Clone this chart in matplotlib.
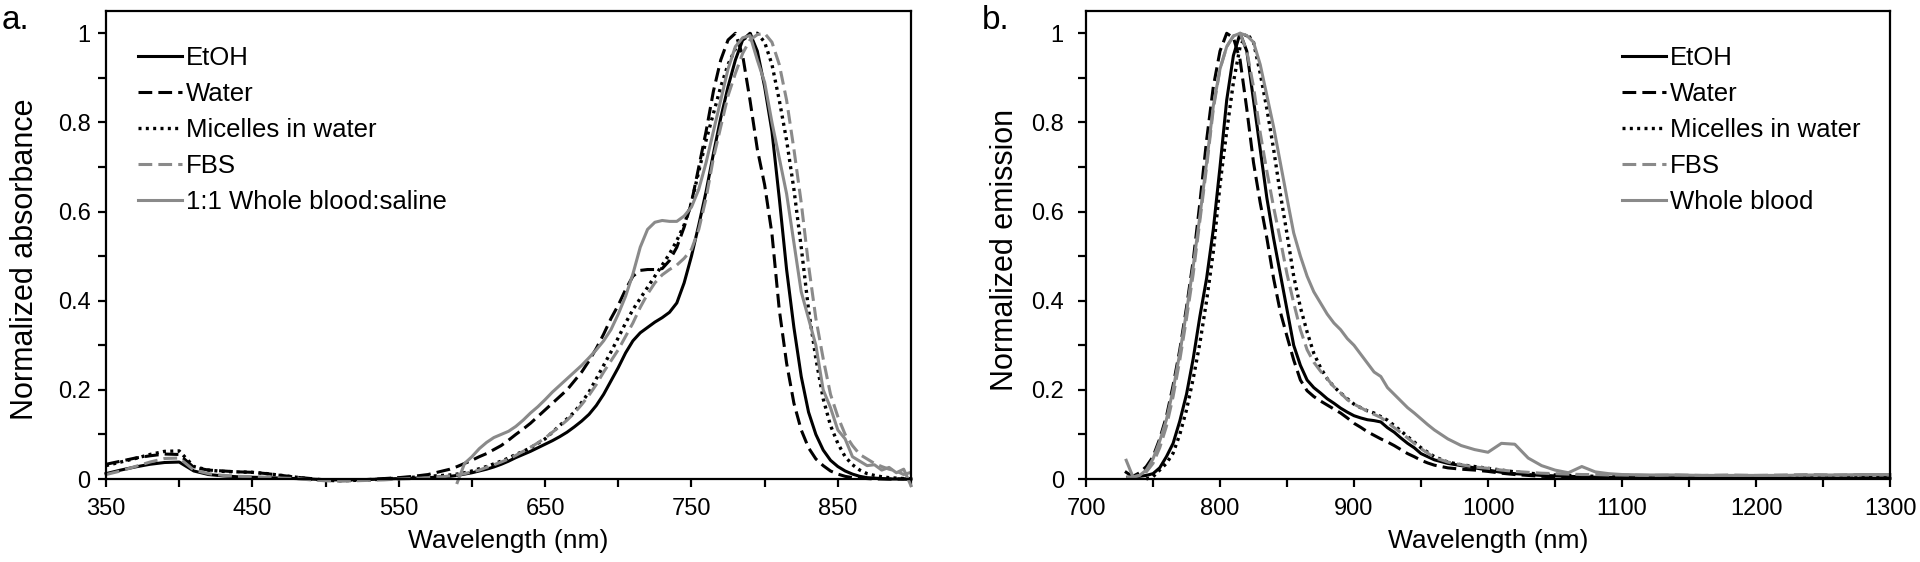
import numpy as np
import matplotlib
matplotlib.use('Agg')
import matplotlib.pyplot as plt
from matplotlib.ticker import MultipleLocator

plt.rcParams['font.family'] = ['Liberation Sans', 'DejaVu Sans']

nan = np.nan

# ---------------- Panel a: absorbance ----------------
wl_a = np.concatenate([np.arange(350, 581, 10), np.arange(585, 901, 5)])

abs_etoh = [0.012, 0.02, 0.027, 0.033, 0.037, 0.038, 0.018, 0.01, 0.007, 0.005, 0.004, 0.003,
            0.002, 0.001, 0.0, -0.002, -0.002, -0.002, -0.001, 0.0, 0.001, 0.002, 0.003, 0.005,
            0.006, 0.008, 0.011, 0.014, 0.018, 0.022, 0.027, 0.033, 0.04, 0.048, 0.055, 0.062,
            0.07, 0.078, 0.086, 0.095, 0.105, 0.117, 0.13, 0.145, 0.165, 0.19, 0.22, 0.25,
            0.283, 0.31, 0.328, 0.34, 0.352, 0.362, 0.374, 0.395, 0.44, 0.5, 0.57, 0.645,
            0.73, 0.81, 0.88, 0.94, 0.985, 1.0, 0.96, 0.88,
            0.78, 0.63, 0.47, 0.34, 0.23, 0.15, 0.10, 0.065, 0.042, 0.028, 0.018, 0.011,
            0.006, 0.003, 0.002, 0.001, 0.0, 0.0, 0.0, 0.0]

abs_water = [0.033, 0.04, 0.047, 0.052, 0.056, 0.055, 0.026, 0.02, 0.018, 0.016, 0.015, 0.012,
             0.008, 0.004, 0.001, -0.002, -0.003, -0.002, -0.001, 0.001, 0.003, 0.006, 0.01, 0.018,
             0.022, 0.028, 0.035, 0.042, 0.05, 0.057, 0.066, 0.075, 0.087, 0.1, 0.112, 0.125,
             0.14, 0.155, 0.17, 0.185, 0.2, 0.22, 0.24, 0.265, 0.293, 0.325, 0.36, 0.39,
             0.425, 0.455, 0.468, 0.47, 0.47, 0.472, 0.49, 0.52, 0.565, 0.62, 0.70, 0.78,
             0.87, 0.94, 0.985, 1.0, 0.95, 0.85, 0.74, 0.66,
             0.55, 0.38, 0.26, 0.17, 0.11, 0.07, 0.045, 0.03, 0.018, 0.011, 0.006, 0.003,
             0.002, 0.001, 0.0, 0.0, 0.0, 0.0, 0.0, 0.0]

abs_micelles = [0.03, 0.038, 0.046, 0.055, 0.062, 0.063, 0.028, 0.02, 0.017, 0.016, 0.015, 0.012,
                0.008, 0.004, 0.0, -0.003, -0.004, -0.003, -0.002, 0.0, 0.002, 0.004, 0.006, 0.008,
                0.009, 0.011, 0.014, 0.018, 0.023, 0.028, 0.034, 0.04, 0.047, 0.055, 0.062, 0.07,
                0.08, 0.09, 0.105, 0.12, 0.135, 0.15, 0.172, 0.195, 0.225, 0.255, 0.285, 0.317,
                0.35, 0.38, 0.405, 0.43, 0.455, 0.48, 0.505, 0.535, 0.57, 0.62, 0.69, 0.76,
                0.82, 0.88, 0.93, 0.965, 0.985, 0.997, 1.0, 0.98,
                0.93, 0.85, 0.76, 0.65, 0.52, 0.38, 0.27, 0.18, 0.12, 0.08, 0.05, 0.032,
                0.02, 0.012, 0.008, 0.005, 0.003, 0.002, 0.001, 0.0]

abs_fbs = [0.01, 0.018, 0.028, 0.038, 0.046, 0.047, 0.02, 0.012, 0.008, 0.006, 0.005, 0.004,
           0.002, 0.001, -0.002, -0.004, -0.005, -0.004, -0.003, -0.002, 0.0, 0.001, 0.003, 0.005,
           0.007, 0.009, 0.012, 0.016, 0.02, 0.026, 0.032, 0.038, 0.045, 0.053, 0.062, 0.071,
           0.081, 0.092, 0.105, 0.118, 0.132, 0.148, 0.167, 0.188, 0.212, 0.24, 0.265, 0.29,
           0.32, 0.35, 0.385, 0.415, 0.44, 0.458, 0.47, 0.48, 0.495, 0.515, 0.56, 0.63,
           0.72, 0.79, 0.86, 0.91, 0.955, 0.985, 0.997, 1.0,
           0.98, 0.93, 0.85, 0.74, 0.62, 0.48, 0.36, 0.27, 0.19, 0.14, 0.10, 0.075,
           0.055, 0.045, 0.035, 0.028, 0.022, 0.018, 0.01, 0.015]

abs_blood = [nan] * 24 + [
             nan, -0.008, 0.035, 0.05, 0.068, 0.082, 0.093, 0.1, 0.107, 0.118, 0.132, 0.148,
             0.162, 0.178, 0.195, 0.21, 0.225, 0.24, 0.255, 0.272, 0.29, 0.31, 0.335, 0.37,
             0.41, 0.46, 0.52, 0.56, 0.576, 0.58, 0.578, 0.578, 0.59, 0.61, 0.65, 0.71,
             0.78, 0.85, 0.92, 0.97, 0.99, 0.995, 0.94, 0.89,
             0.80, 0.72, 0.64, 0.53, 0.42, 0.36, 0.30, 0.20, 0.16, 0.11, 0.09, 0.05,
             0.04, 0.03, 0.032, 0.02, 0.026, 0.014, 0.022, -0.015]

# ---------------- Panel b: emission ----------------
wl_b = np.concatenate([np.arange(730, 961, 5), np.arange(970, 1101, 10), np.arange(1120, 1301, 20)])

em_etoh = [0.015, 0.005, 0.006, 0.008, 0.012, 0.025, 0.05, 0.08, 0.13, 0.19, 0.27, 0.365,
           0.45, 0.56, 0.70, 0.85, 0.95, 1.0, 0.96, 0.85, 0.74, 0.63, 0.54, 0.46,
           0.38, 0.30, 0.255, 0.222, 0.205, 0.193, 0.18, 0.17, 0.159, 0.15, 0.142, 0.137,
           0.133, 0.131, 0.128, 0.115, 0.105, 0.092, 0.08, 0.07, 0.057, 0.05, 0.043,
           0.035, 0.03, 0.025, 0.02, 0.015, 0.012, 0.01, 0.008, 0.007, 0.006, 0.005, 0.004,
           0.004, 0.003,
           0.003, 0.003, 0.003, 0.002, 0.002, 0.002, 0.002, 0.002, 0.002, 0.002]

em_water = [0.003, 0.006, 0.014, 0.028, 0.05, 0.09, 0.14, 0.21, 0.29, 0.385, 0.49, 0.62,
            0.76, 0.88, 0.96, 1.0, 0.99, 0.94, 0.83, 0.71, 0.62, 0.54, 0.45, 0.375,
            0.32, 0.267, 0.222, 0.198, 0.185, 0.175, 0.166, 0.157, 0.148, 0.137, 0.125, 0.116,
            0.106, 0.098, 0.09, 0.083, 0.075, 0.066, 0.057, 0.05, 0.042, 0.036, 0.031,
            0.025, 0.022, 0.02, 0.017, 0.013, 0.01, 0.008, 0.006, 0.005, 0.004, 0.004, 0.003,
            0.003, 0.003,
            0.002, 0.002, 0.002, 0.002, 0.002, 0.002, 0.002, 0.002, 0.002, 0.002]

em_micelles = [nan, nan, nan, 0.0, 0.005, 0.02, 0.035, 0.058, 0.1, 0.155, 0.225, 0.305,
               0.40, 0.51, 0.66, 0.78, 0.89, 0.97, 1.0, 0.98, 0.91, 0.83, 0.74, 0.64,
               0.55, 0.455, 0.385, 0.33, 0.282, 0.25, 0.225, 0.207, 0.193, 0.18, 0.168, 0.16,
               0.153, 0.148, 0.14, 0.132, 0.12, 0.108, 0.095, 0.083, 0.07, 0.06, 0.05,
               0.038, 0.032, 0.028, 0.024, 0.02, 0.016, 0.013, 0.011, 0.009, 0.008, 0.007, 0.006,
               0.006, 0.005,
               0.005, 0.004, 0.005, 0.004, 0.004, 0.005, 0.004, 0.004, 0.005, 0.004]

em_fbs = [0.005, 0.004, 0.008, 0.016, 0.035, 0.07, 0.118, 0.185, 0.267, 0.36, 0.46, 0.58,
          0.70, 0.83, 0.92, 0.97, 0.994, 1.0, 0.96, 0.88, 0.777, 0.69, 0.61, 0.537,
          0.46, 0.395, 0.335, 0.29, 0.262, 0.242, 0.225, 0.207, 0.193, 0.178, 0.168, 0.16,
          0.152, 0.145, 0.138, 0.127, 0.115, 0.104, 0.092, 0.08, 0.068, 0.058, 0.048,
          0.038, 0.032, 0.027, 0.024, 0.02, 0.017, 0.015, 0.013, 0.012, 0.011, 0.01, 0.01,
          0.009, 0.009,
          0.008, 0.009, 0.008, 0.009, 0.008, 0.009, 0.01, 0.009, 0.01, 0.01]

em_blood = [0.042, 0.005, 0.008, 0.02, 0.045, 0.085, 0.133, 0.2, 0.282, 0.375, 0.477, 0.59,
            0.71, 0.837, 0.92, 0.97, 0.994, 1.0, 0.995, 0.98, 0.93, 0.86, 0.79, 0.71,
            0.63, 0.552, 0.50, 0.455, 0.42, 0.395, 0.37, 0.35, 0.335, 0.315, 0.30, 0.28,
            0.26, 0.24, 0.23, 0.205, 0.19, 0.175, 0.16, 0.148, 0.135, 0.122, 0.11,
            0.09, 0.075, 0.066, 0.06, 0.08, 0.078, 0.047, 0.03, 0.02, 0.014, 0.028, 0.016,
            0.012, 0.01,
            0.009, 0.009, 0.008, 0.008, 0.008, 0.008, 0.009, 0.009, 0.01, 0.01]

labels_a = ['EtOH', 'Water', 'Micelles in water', 'FBS', '1:1 Whole blood:saline']
labels_b = ['EtOH', 'Water', 'Micelles in water', 'FBS', 'Whole blood']

xticks_a = [350, 450, 550, 650, 750, 850]
xticks_b = [700, 800, 900, 1000, 1100, 1200, 1300]
yticks = [0, 0.2, 0.4, 0.6, 0.8, 1.0]
ytick_labels = ['0', '0.2', '0.4', '0.6', '0.8', '1']

BLACK = '#000000'
GREY = '#8a8a8a'
styles = [
    dict(color=BLACK, lw=2.2, ls='-'),
    dict(color=BLACK, lw=2.2, ls=(0, (4.5, 2.0))),
    dict(color=BLACK, lw=2.4, ls=(0, (0.9, 1.3))),
    dict(color=GREY, lw=2.2, ls=(0, (4.5, 2.0))),
    dict(color=GREY, lw=2.2, ls='-'),
]

fig = plt.figure(figsize=(19.2, 5.62), dpi=100)
W, H = 1920, 562
axa = fig.add_axes([106 / W, (H - 479) / H, (911 - 106) / W, (479 - 11) / H])
axb = fig.add_axes([1086 / W, (H - 479) / H, (1890 - 1086) / W, (479 - 11) / H])


def style_axis(ax, xlim, xticks, minor, ylab, ypad):
    ax.set_xlim(*xlim)
    ax.set_ylim(0, 1.05)
    ax.set_xticks(xticks)
    ax.set_xticklabels([str(t) for t in xticks])
    ax.xaxis.set_minor_locator(MultipleLocator(minor))
    ax.set_yticks(yticks)
    ax.set_yticklabels(ytick_labels)
    ax.yaxis.set_minor_locator(MultipleLocator(0.1))
    for s in ax.spines.values():
        s.set_linewidth(1.6)
    ax.tick_params(which='both', direction='out', length=6, width=1.6, labelsize=17)
    ax.tick_params(axis='x', which='major', pad=8)
    ax.tick_params(axis='y', which='major', pad=ypad)
    ax.set_xlabel('Wavelength (nm)', fontsize=19, labelpad=6)
    ax.set_ylabel(ylab, fontsize=22)


series_a = [abs_etoh, abs_water, abs_micelles, abs_fbs, abs_blood]
for vals, lab, st in zip(series_a, labels_a, styles):
    axa.plot(wl_a, vals, label=lab, clip_on=False, solid_joinstyle='round', **st)
style_axis(axa, (350, 900), xticks_a, 50, 'Normalized absorbance', 5)
axa.yaxis.set_label_coords(-0.082, 0.47)

series_b = [em_etoh, em_water, em_micelles, em_fbs, em_blood]
for vals, lab, st in zip(series_b, labels_b, styles):
    axb.plot(wl_b, vals, label=lab, clip_on=False, solid_joinstyle='round', **st)
style_axis(axb, (700, 1300), xticks_b, 50, 'Normalized emission', 10)
axb.yaxis.set_label_coords(-0.082, 0.49)

leg_kw = dict(loc='upper left', frameon=False, fontsize=18.5, handlelength=1.7,
              handletextpad=0.15, labelspacing=0.47, borderpad=0, borderaxespad=0)
axa.legend(bbox_to_anchor=(0.04, 0.925), **leg_kw)
axb.legend(bbox_to_anchor=(0.667, 0.925), **leg_kw)

fig.text(2 / W, 1 - 5 / H, 'a.', fontsize=24, va='top', ha='left')
fig.text(982 / W, 1 - 5 / H, 'b.', fontsize=24, va='top', ha='left')

fig.savefig('out.png', dpi=100)
